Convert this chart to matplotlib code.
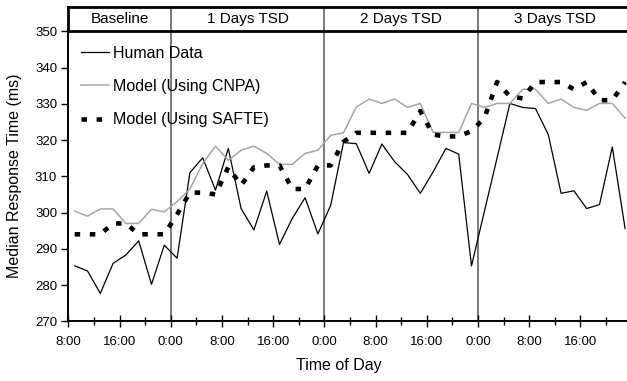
import matplotlib.pyplot as plt

plt.rcParams['font.family'] = ['Liberation Sans', 'DejaVu Sans']

# data points every 2 hours, hours counted from baseline day 0:00
hours = list(range(9, 96, 2))
human = [285.3, 283.9, 277.7, 286.0, 288.3, 292.2, 280.2, 291.0, 287.4, 311.0,
         315.1, 306.2, 317.7, 301.1, 295.2, 305.9, 291.2, 298.4, 304.1, 294.1,
         302.0, 319.3, 319.0, 310.8, 318.9, 314.0, 310.5, 305.3, 311.2, 317.7,
         316.1, 285.3, 300.2, 315.1, 330.1, 329.0, 328.7, 321.5, 305.3, 306.0,
         301.1, 302.2, 318.1, 295.6]
cnpa = [300.4, 299.0, 301.0, 301.0, 297.0, 297.0, 300.9, 300.2, 303.0, 306.5,
        313.5, 318.3, 314.4, 317.2, 318.3, 316.3, 313.3, 313.3, 316.3, 317.2,
        321.3, 322.0, 329.1, 331.3, 330.1, 331.3, 329.0, 330.1, 322.1, 322.1,
        322.1, 330.1, 329.0, 330.1, 330.1, 334.0, 334.0, 330.1, 331.3, 329.0,
        328.2, 330.1, 330.1, 326.0]
safte = [294.0, 294.0, 294.0, 297.0, 297.0, 294.0, 294.0, 294.0, 299.5, 305.5,
         305.5, 305.0, 312.5, 307.5, 312.5, 313.0, 313.0, 306.5, 306.5, 313.0,
         313.0, 319.5, 322.0, 322.0, 322.0, 322.0, 322.0, 328.0, 321.5, 321.0,
         321.0, 322.5, 326.0, 336.0, 332.0, 331.5, 336.0, 336.0, 336.0, 334.0,
         336.0, 331.0, 331.0, 336.0]

tick_hours = [8, 16, 24, 32, 40, 48, 56, 64, 72, 80, 88]
tick_labels = ['8:00', '16:00', '0:00', '8:00', '16:00', '0:00',
               '8:00', '16:00', '0:00', '8:00', '16:00']
day_bounds = [8, 24, 48, 72, 96]
day_names = ['Baseline', '1 Days TSD', '2 Days TSD', '3 Days TSD']

W, H = 627, 381
fig = plt.figure(figsize=(W / 100, H / 100), dpi=100)


def px(l, t, r, b):
    # pixel box -> figure fraction
    return [l / W, 1 - b / H, (r - l) / W, (b - t) / H]


ax = fig.add_axes(px(68.3, 31.3, 631.5, 321.3))
hdr = fig.add_axes(px(68.3, 7, 631.5, 31.3))

ax.plot(hours, human, color='black', lw=0.9, label='Human Data')
ax.plot(hours, cnpa, color='#a6a6a6', lw=1.1, label='Model (Using CNPA)')
ax.plot(hours, safte, color='black', lw=3.3, dashes=(1.2, 2.1),
        label='Model (Using SAFTE)')

for d in day_bounds[1:-1]:
    ax.axvline(d, color='#555555', lw=1.1, zorder=0)
    hdr.axvline(d, color='#555555', lw=1.1)

ax.set_xlim(day_bounds[0], day_bounds[-1])
ax.set_ylim(270, 350)
ax.set_yticks(range(270, 351, 10))
ax.set_xticks(tick_hours)
ax.set_xticklabels(tick_labels)
ax.set_xticks(range(12, 96, 8), minor=True)
ax.tick_params(axis='x', which='major', direction='inout', length=9, width=1,
               labelsize=9.5, pad=6)
ax.tick_params(axis='x', which='minor', direction='inout', length=6, width=1)
ax.tick_params(axis='y', direction='out', length=5, width=1, labelsize=9.5, pad=3)
for s in ['top', 'right']:
    ax.spines[s].set_visible(False)
for s in ['left', 'bottom']:
    ax.spines[s].set_linewidth(1.4)

ax.set_xlabel('Time of Day', fontsize=11.5)
ax.xaxis.set_label_coords((339 - 68.3) / 563.2, (321.3 - 358) / 290)
fig.text(15 / W, 1 - 176 / H, 'Median Response Time (ms)', rotation=90,
         ha='center', va='center', fontsize=11.5)

ax.legend(loc='upper left', bbox_to_anchor=(81 / W, 1 - 46 / H),
          bbox_transform=fig.transFigure, frameon=False, fontsize=11.5,
          handlelength=1.75, handletextpad=0.25, labelspacing=1.13,
          borderpad=0, borderaxespad=0)

hdr.set_xlim(day_bounds[0], day_bounds[-1])
hdr.set_ylim(0, 1)
hdr.set_xticks([])
hdr.set_yticks([])
for s in hdr.spines.values():
    s.set_linewidth(2)
for a, b, name in zip(day_bounds[:-1], day_bounds[1:], day_names):
    hdr.text((a + b) / 2, 0.5, name, ha='center', va='center', fontsize=11)

fig.savefig('out.png', dpi=100)
